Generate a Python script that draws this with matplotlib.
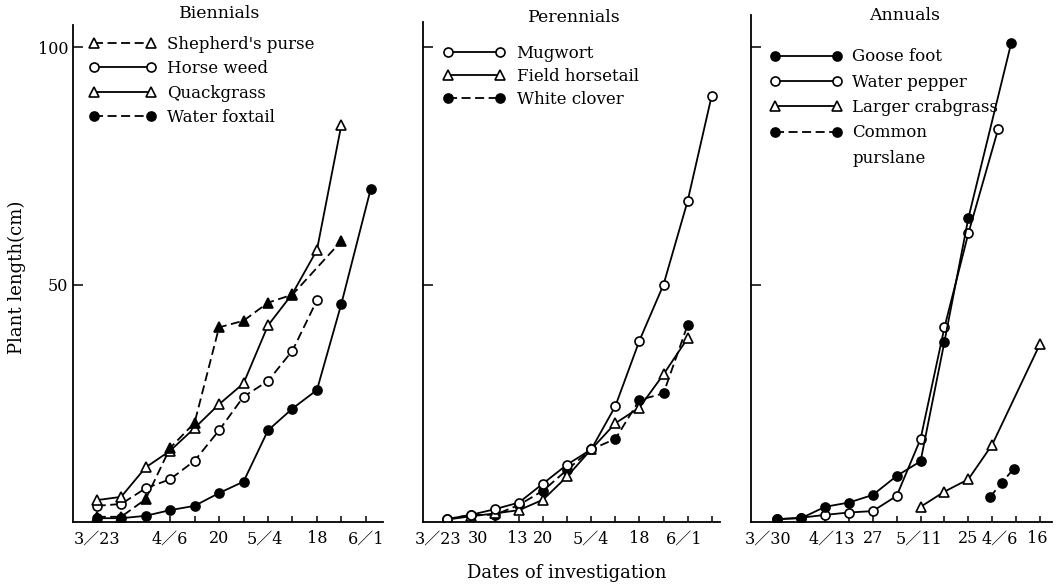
import matplotlib
matplotlib.use("Agg")
import matplotlib.pyplot as plt
from matplotlib.lines import Line2D
import matplotlib.transforms as mtransforms

plt.rcParams['font.family'] = ['DejaVu Serif', 'Noto Sans CJK JP']

# ---------------- data ----------------
# Biennials (x = investigation index)
bi_labels = ['3／23', '', '', '4／6', '', '20', '', '5／4', '', '18', '', '6／1']
shep_x = [0, 1, 2, 3, 4, 5, 6, 7, 8, 10]
shep_y = [1.1, 1.1, 4.8, 15.6, 20.9, 41.0, 42.4, 46.2, 47.9, 59.2]
horse_x = [0, 1, 2, 3, 4, 5, 6, 7, 8, 9]
horse_y = [3.4, 3.8, 7.1, 9.0, 12.9, 19.3, 26.4, 29.7, 36.1, 46.7]
quack_x = [0, 1, 2, 3, 4, 5, 6, 7, 8, 9, 10]
quack_y = [4.6, 5.3, 11.5, 15.0, 19.8, 24.8, 29.2, 41.4, 48.1, 57.3, 83.7]
foxt_x = [0, 1, 2, 3, 4, 5, 6, 7, 8, 9, 10, 11.2]
foxt_y = [0.8, 0.8, 1.3, 2.5, 3.4, 6.1, 8.5, 19.3, 23.9, 27.8, 46.0, 70.2]

# Perennials
pe_labels = ['3／23', '30', '', '13', '20', '', '5／4', '', '18', '', '6／1', '']
mug_x = [0, 1, 2, 3, 4, 5, 6, 7, 8, 9, 10, 11]
mug_y = [0.6, 1.5, 2.7, 4.1, 8.1, 12.1, 15.3, 24.4, 38.2, 50.0, 67.6, 89.8]
horset_x = [0, 1, 2, 3, 4, 5, 6, 7, 8, 9, 10]
horset_y = [0.5, 1.2, 1.8, 2.5, 4.7, 9.6, 15.3, 20.8, 24.1, 31.1, 38.7]
clover_x = [0, 1, 2, 3, 4, 5, 6, 7, 8, 9, 10]
clover_y = [0.6, 1.5, 1.5, 3.6, 6.6, 11.0, 15.3, 17.5, 25.7, 27.1, 41.5]

# Annuals
an_labels = ['3／30', '', '4／13', '', '27', '', '5／11', '', '25', '4／6', '', '16']
goose_x = [0, 1, 2, 3, 4, 5, 6, 7, 8, 9.8]
goose_y = [0.6, 0.8, 3.2, 4.1, 5.7, 9.7, 12.8, 38.0, 64.0, 101.0]
pepper_x = [0, 1, 2, 3, 4, 5, 6, 7, 8, 9.25]
pepper_y = [0.6, 0.9, 1.5, 2.0, 2.3, 5.5, 17.5, 41.0, 60.8, 82.8]
crab_x = [6, 7, 8, 9, 11]
crab_y = [3.2, 6.4, 9.0, 16.3, 37.5]
purs_x = [8.9, 9.4, 9.9]
purs_y = [5.2, 8.3, 11.2]

# ---------------- styling helpers ----------------
LW = 1.3
MS = 6.5
DASH = (5, 2.5)


def style(ls, marker, filled):
    d = dict(color='black', lw=LW, marker=marker, ms=MS, mew=1.2,
             mec='black', mfc='black' if filled else 'white')
    if ls == '--':
        d['linestyle'] = (0, DASH)
    else:
        d['linestyle'] = '-'
    return d


def handle(ls, marker, filled, label):
    return Line2D([], [], label=label, **style(ls, marker, filled))


fig = plt.figure(figsize=(10.58, 5.88), dpi=100)
W, H = 1058.0, 588.0


def make_ax(left, right, top, bottom, xlim, ytop):
    ax = fig.add_axes([left / W, 1 - bottom / H, (right - left) / W, (bottom - top) / H])
    ax.set_xlim(*xlim)
    ax.set_ylim(0, ytop)
    for s in ['top', 'right']:
        ax.spines[s].set_visible(False)
    for s in ['left', 'bottom']:
        ax.spines[s].set_linewidth(1.3)
    ax.set_yticks([50, 100])
    ax.tick_params(axis='y', direction='in', length=7.5, width=1.1, labelsize=11.5, pad=3.5)
    ax.tick_params(axis='x', direction='in', length=4.3, width=1.1, labelsize=11.5, pad=6)
    ax.set_xticks(range(12))
    return ax


def offset_labels(ax, offsets):
    for lab, dx in zip(ax.get_xticklabels(), offsets):
        if dx:
            lab.set_transform(lab.get_transform() +
                              mtransforms.ScaledTranslation(dx * 0.72 / 72, 0, fig.dpi_scale_trans))


# ---------------- Biennials ----------------
ax1 = make_ax(73.3, 383, 25, 522, (-0.956, 11.70), 104.7)
ax1.set_xticklabels(bi_labels)
ax1.set_yticklabels(['50', '100'])
ax1.plot(foxt_x, foxt_y, **style('-', 'o', True))
ax1.plot(horse_x, horse_y, **style('--', 'o', False))
ax1.plot(quack_x, quack_y, **style('-', '^', False))
ax1.plot(shep_x, shep_y, **style('--', '^', True))
offset_labels(ax1, [0, 0, 0, 0, 0, 0, 0, -3, 0, 0, 0, 0])
ax1.legend(handles=[handle('--', '^', False, "Shepherd's purse"),
                    handle('-', 'o', False, 'Horse weed'),
                    handle('-', '^', False, 'Quackgrass'),
                    handle('--', 'o', True, 'Water foxtail')],
           loc='upper left', bbox_to_anchor=(0.052, 0.978), frameon=False,
           numpoints=2, handlelength=4.0, handletextpad=0.65, labelspacing=0.44,
           borderpad=0, borderaxespad=0, fontsize=12)

# ---------------- Perennials ----------------
ax2 = make_ax(422.7, 720, 21.7, 522, (-0.996, 11.345), 105.4)
ax2.set_xticklabels(pe_labels)
ax2.set_yticklabels(['', ''])
ax2.plot(clover_x, clover_y, **style('--', 'o', True))
ax2.plot(horset_x, horset_y, **style('-', '^', False))
ax2.plot(mug_x, mug_y, **style('-', 'o', False))
offset_labels(ax2, [-8.4, 7.3, 0, -2, 0, 0, 0, 0, 0, 0, -3, 0])
ax2.legend(handles=[handle('-', 'o', False, 'Mugwort'),
                    handle('-', '^', False, 'Field horsetail'),
                    handle('--', 'o', True, 'White clover')],
           loc='upper left', bbox_to_anchor=(0.069, 0.953), frameon=False,
           numpoints=2, handlelength=3.7, handletextpad=0.7, labelspacing=0.34,
           borderpad=0, borderaxespad=0, fontsize=12)

# ---------------- Annuals ----------------
ax3 = make_ax(751, 1051.7, 15, 522, (-1.10, 11.49), 106.8)
ax3.set_xticklabels(an_labels)
ax3.set_yticklabels(['', ''])
ax3.plot(crab_x, crab_y, **style('-', '^', False))
ax3.plot(purs_x, purs_y, **style('--', 'o', True))
ax3.plot(pepper_x, pepper_y, **style('-', 'o', False))
ax3.plot(goose_x, goose_y, **style('-', 'o', True))
offset_labels(ax3, [-9, 0, 7, 0, 0, 0, -2, 0, 0, 7.6, 0, -3])
ax3.legend(handles=[handle('-', 'o', True, 'Goose foot'),
                    handle('-', 'o', False, 'Water pepper'),
                    handle('-', '^', False, 'Larger crabgrass'),
                    handle('--', 'o', True, 'Common'),
                    Line2D([], [], linestyle='none', label='purslane')],
           loc='upper left', bbox_to_anchor=(0.063, 0.934), frameon=False,
           numpoints=2, handlelength=4.3, handletextpad=0.65, labelspacing=0.5,
           borderpad=0, borderaxespad=0, fontsize=12)

# ---------------- titles and axis labels ----------------
fig.text(220 / W, 1 - 14 / H, 'Biennials', ha='center', va='center', fontsize=12.5)
fig.text(574 / W, 1 - 17 / H, 'Perennials', ha='center', va='center', fontsize=12.5)
fig.text(905 / W, 1 - 15 / H, 'Annuals', ha='center', va='center', fontsize=12.5)
fig.text(17 / W, 1 - 277 / H, 'Plant length(cm)', rotation=90, ha='center', va='center', fontsize=13)
fig.text(567 / W, 1 - 573 / H, 'Dates of investigation', ha='center', va='center', fontsize=13)

fig.savefig('out.png', dpi=100)
